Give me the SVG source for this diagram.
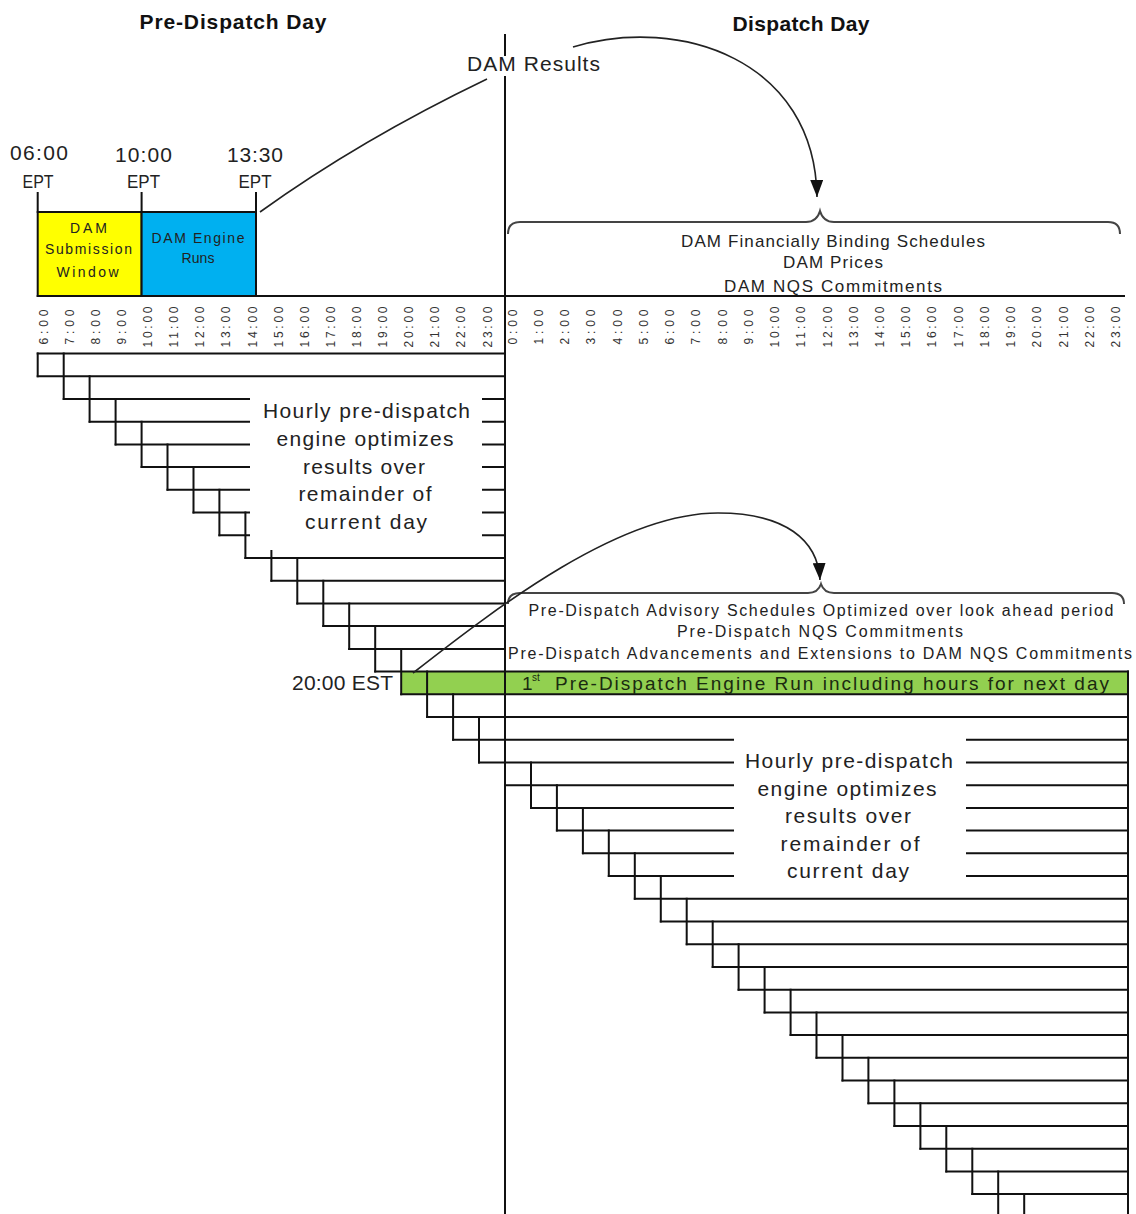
<svg xmlns="http://www.w3.org/2000/svg" width="1136" height="1214" viewBox="0 0 1136 1214">
<defs>
<marker id="arrow" viewBox="0 0 17 13" refX="17" refY="6.5" markerWidth="17" markerHeight="13" markerUnits="userSpaceOnUse" orient="auto"><path d="M0,0 L17,6.5 L0,13 z" fill="#111"/></marker>
</defs>
<style>
text{font-family:"Liberation Sans",Arial,sans-serif;fill:#222}
.title{font-size:21px;font-weight:bold;fill:#111}
.big{font-size:21px}
.ept{font-size:18px}
.box{font-size:14px}
.tick{font-size:12px;fill:#333;text-anchor:middle}
.bt{font-size:17px;text-anchor:middle}
.pt{font-size:16px;text-anchor:middle}
.gt{font-size:19px;fill:#1a2a10}
.line{fill:none;stroke:#111;stroke-width:2;stroke-linecap:square}
.brace{fill:none;stroke:#444;stroke-width:2}
.conn{fill:none;stroke:#222;stroke-width:1.6}
.mask{fill:#fff;stroke:none}
.mid{text-anchor:middle}
</style>
<rect width="1136" height="1214" fill="#fff"/>

<g id="title-pre"><text class="title mid" x="233" y="29" textLength="187">Pre-Dispatch Day</text></g>
<g id="title-dispatch"><text class="title mid" x="801" y="31" textLength="137">Dispatch Day</text></g>

<g id="time-0600"><text class="big mid" x="39" y="160" textLength="58">06:00</text><text class="ept mid" x="38" y="188" textLength="31" lengthAdjust="spacingAndGlyphs">EPT</text></g>
<g id="time-1000"><text class="big mid" x="143.5" y="161.5" textLength="57">10:00</text><text class="ept mid" x="143.5" y="188" textLength="33" lengthAdjust="spacingAndGlyphs">EPT</text></g>
<g id="time-1330"><text class="big mid" x="255" y="161.5" textLength="56">13:30</text><text class="ept mid" x="255" y="188" textLength="33" lengthAdjust="spacingAndGlyphs">EPT</text></g>

<g id="box-submission">
<rect x="37.7" y="212" width="103.9" height="84" fill="#ffff00" stroke="#111" stroke-width="2"/>
<text class="box mid" x="88.5" y="233" textLength="37">DAM</text>
<text class="box mid" x="88.5" y="254" textLength="87">Submission</text>
<text class="box mid" x="87.5" y="276.5" textLength="62">Window</text>
</g>
<g id="box-engine">
<rect x="141.6" y="212" width="114.4" height="84" fill="#00b0f0" stroke="#111" stroke-width="2"/>
<text class="box mid" x="198" y="243" textLength="93">DAM Engine</text>
<text class="box mid" x="198" y="263" textLength="33">Runs</text>
</g>

<g id="axis">
<path class="line" d="M37.7 296H1124M37.7 193V212M141.6 193V212M256 193V212"/>
<text class="tick" transform="translate(47.5,327) rotate(-90)" textLength="35">6:00</text>
<text class="tick" transform="translate(73.6,327) rotate(-90)" textLength="35">7:00</text>
<text class="tick" transform="translate(99.7,327) rotate(-90)" textLength="35">8:00</text>
<text class="tick" transform="translate(125.9,327) rotate(-90)" textLength="35">9:00</text>
<text class="tick" transform="translate(152,327) rotate(-90)" textLength="41">10:00</text>
<text class="tick" transform="translate(178.1,327) rotate(-90)" textLength="41">11:00</text>
<text class="tick" transform="translate(204.2,327) rotate(-90)" textLength="41">12:00</text>
<text class="tick" transform="translate(230.3,327) rotate(-90)" textLength="41">13:00</text>
<text class="tick" transform="translate(256.5,327) rotate(-90)" textLength="41">14:00</text>
<text class="tick" transform="translate(282.6,327) rotate(-90)" textLength="41">15:00</text>
<text class="tick" transform="translate(308.7,327) rotate(-90)" textLength="41">16:00</text>
<text class="tick" transform="translate(334.8,327) rotate(-90)" textLength="41">17:00</text>
<text class="tick" transform="translate(360.9,327) rotate(-90)" textLength="41">18:00</text>
<text class="tick" transform="translate(387.1,327) rotate(-90)" textLength="41">19:00</text>
<text class="tick" transform="translate(413.2,327) rotate(-90)" textLength="41">20:00</text>
<text class="tick" transform="translate(439.3,327) rotate(-90)" textLength="41">21:00</text>
<text class="tick" transform="translate(465.4,327) rotate(-90)" textLength="41">22:00</text>
<text class="tick" transform="translate(491.5,327) rotate(-90)" textLength="41">23:00</text>
<text class="tick" transform="translate(516.7,327) rotate(-90)" textLength="35">0:00</text>
<text class="tick" transform="translate(542.9,327) rotate(-90)" textLength="35">1:00</text>
<text class="tick" transform="translate(569.2,327) rotate(-90)" textLength="35">2:00</text>
<text class="tick" transform="translate(595.4,327) rotate(-90)" textLength="35">3:00</text>
<text class="tick" transform="translate(621.6,327) rotate(-90)" textLength="35">4:00</text>
<text class="tick" transform="translate(647.9,327) rotate(-90)" textLength="35">5:00</text>
<text class="tick" transform="translate(674.1,327) rotate(-90)" textLength="35">6:00</text>
<text class="tick" transform="translate(700.3,327) rotate(-90)" textLength="35">7:00</text>
<text class="tick" transform="translate(726.5,327) rotate(-90)" textLength="35">8:00</text>
<text class="tick" transform="translate(752.8,327) rotate(-90)" textLength="35">9:00</text>
<text class="tick" transform="translate(779,327) rotate(-90)" textLength="41">10:00</text>
<text class="tick" transform="translate(805.2,327) rotate(-90)" textLength="41">11:00</text>
<text class="tick" transform="translate(831.5,327) rotate(-90)" textLength="41">12:00</text>
<text class="tick" transform="translate(857.7,327) rotate(-90)" textLength="41">13:00</text>
<text class="tick" transform="translate(883.9,327) rotate(-90)" textLength="41">14:00</text>
<text class="tick" transform="translate(910.2,327) rotate(-90)" textLength="41">15:00</text>
<text class="tick" transform="translate(936.4,327) rotate(-90)" textLength="41">16:00</text>
<text class="tick" transform="translate(962.6,327) rotate(-90)" textLength="41">17:00</text>
<text class="tick" transform="translate(988.8,327) rotate(-90)" textLength="41">18:00</text>
<text class="tick" transform="translate(1015.1,327) rotate(-90)" textLength="41">19:00</text>
<text class="tick" transform="translate(1041.3,327) rotate(-90)" textLength="41">20:00</text>
<text class="tick" transform="translate(1067.5,327) rotate(-90)" textLength="41">21:00</text>
<text class="tick" transform="translate(1093.8,327) rotate(-90)" textLength="41">22:00</text>
<text class="tick" transform="translate(1120,327) rotate(-90)" textLength="41">23:00</text>
</g>

<g id="dam-outputs">
<path class="brace" d="M508,234 C508,226 512,222 520,222 L806,222 C814,222 818,218 820,211 C822,218 826,222 834,222 L1108,222 C1116,222 1120,226 1120,234"/>
<text class="bt" x="833" y="246.5" textLength="304">DAM Financially Binding Schedules</text>
<text class="bt" x="833" y="268" textLength="100">DAM Prices</text>
<text class="bt" x="833" y="291.5" textLength="218">DAM NQS Commitments</text>
</g>

<g id="first-run">
<rect x="401.2" y="671.6" width="726.8" height="22.7" fill="#92d050"/>
</g>

<g id="staircase">
<path class="line" d="M37.7 353.5H505M37.7 376.2H505M63.7 398.9H505M89.6 421.7H505M115.6 444.4H505M141.6 467.1H505M167.5 489.8H505M193.5 512.5H505M219.4 535.3H505M245.4 558H505M271.4 580.7H505M297.3 603.4H505M323.3 626.1H505M349.2 648.9H505M375.2 671.6H1128M401.2 694.3H1128M427.1 717H1128M453.1 739.7H1128M479 762.5H1128M505 785.2H1128M531 807.9H1128M556.9 830.6H1128M582.9 853.3H1128M608.8 876.1H1128M634.8 898.8H1128M660.8 921.5H1128M686.7 944.2H1128M712.7 966.9H1128M738.6 989.7H1128M764.6 1012.4H1128M790.6 1035.1H1128M816.5 1057.8H1128M842.5 1080.5H1128M868.4 1103.3H1128M894.4 1126H1128M920.4 1148.7H1128M946.3 1171.4H1128M972.3 1194.1H1128"/>
<path class="line" d="M37.7 353.5V376.2M63.7 353.5V398.9M89.6 376.2V421.7M115.6 398.9V444.4M141.6 421.7V467.1M167.5 444.4V489.8M193.5 467.1V512.5M219.4 489.8V535.3M245.4 512.5V558M271.4 535.3V580.7M297.3 558V603.4M323.3 580.7V626.1M349.2 603.4V648.9M375.2 626.1V671.6M401.2 648.9V694.3M427.1 671.6V717M453.1 694.3V739.7M479 717V762.5M531 762.5V807.9M556.9 785.2V830.6M582.9 807.9V853.3M608.8 830.6V876.1M634.8 853.3V898.8M660.8 876.1V921.5M686.7 898.8V944.2M712.7 921.5V966.9M738.6 944.2V989.7M764.6 966.9V1012.4M790.6 989.7V1035.1M816.5 1012.4V1057.8M842.5 1035.1V1080.5M868.4 1057.8V1103.3M894.4 1080.5V1126M920.4 1103.3V1148.7M946.3 1126V1171.4M972.3 1148.7V1194.1M998.2 1171.4V1216M1024.2 1194.1V1216M1128 671.6V1216"/>
<path class="line" d="M505 35V1216"/>
</g>

<g id="dam-results">
<rect class="mask" x="465" y="56" width="138" height="20"/>
<text class="big" x="467" y="71" textLength="133">DAM Results</text>
</g>

<g id="note-day1">
<rect class="mask" x="250" y="388" width="232" height="162"/>
<text class="big mid" x="366.5" y="418" textLength="207">Hourly pre-dispatch</text>
<text class="big mid" x="365" y="445.8" textLength="177">engine optimizes</text>
<text class="big mid" x="364" y="473.6" textLength="122">results over</text>
<text class="big mid" x="365" y="501.4" textLength="133">remainder of</text>
<text class="big mid" x="366" y="529.2" textLength="122">current day</text>
</g>

<g id="note-day2">
<rect class="mask" x="734" y="728" width="232" height="160"/>
<text class="big mid" x="849" y="768" textLength="208">Hourly pre-dispatch</text>
<text class="big mid" x="847" y="795.6" textLength="179">engine optimizes</text>
<text class="big mid" x="848" y="823.2" textLength="126">results over</text>
<text class="big mid" x="850" y="850.8" textLength="139">remainder of</text>
<text class="big mid" x="848" y="878.4" textLength="122">current day</text>
</g>

<g id="label-2000"><text class="big" x="292" y="690" textLength="101">20:00 EST</text></g>

<g id="first-run-label">
<text class="gt" x="522" y="690">1</text>
<text class="gt" x="532" y="681" style="font-size:10px">st</text>
<text class="gt" x="555" y="690" textLength="554">Pre-Dispatch Engine Run including hours for next day</text>
</g>

<g id="pd-outputs">
<path class="brace" d="M508,604 C508,597 512,593 520,593 L808,593 C815,593 819,590 821,584 C823,590 827,593 834,593 L1112,593 C1120,593 1124,597 1124,604"/>
<text class="pt" x="821" y="616" textLength="585">Pre-Dispatch Advisory Schedules Optimized over look ahead period</text>
<text class="pt" x="820" y="637" textLength="286">Pre-Dispatch NQS Commitments</text>
<text class="pt" x="820" y="659" textLength="624">Pre-Dispatch Advancements and Extensions to DAM NQS Commitments</text>
</g>

<g id="connectors">
<path class="conn" d="M260,212 Q360,140 487,79"/>
<path class="conn" d="M573,47 C680,15 815,60 817,197" marker-end="url(#arrow)"/>
<path class="conn" d="M413,673 C500,605 620,513 718,513 C785,513 818,540 820,580" marker-end="url(#arrow)"/>
</g>
</svg>
